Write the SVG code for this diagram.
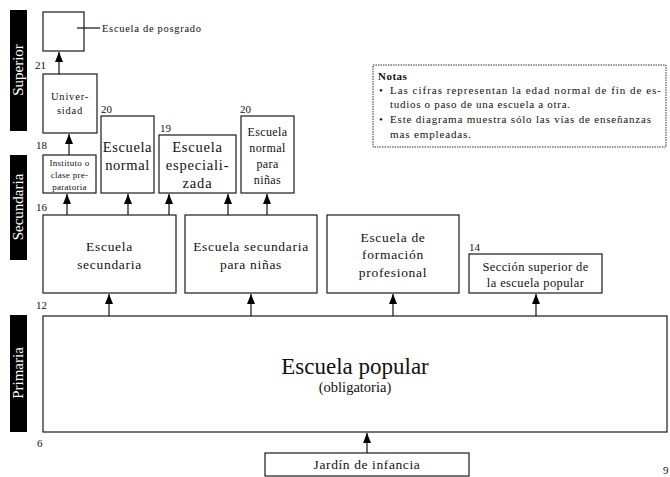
<svg xmlns="http://www.w3.org/2000/svg" width="670" height="477" viewBox="0 0 670 477" font-family="'Liberation Serif', serif">
<style>
.box{fill:#fff;stroke:#1a1a1a;stroke-width:1.2}
.bar{fill:#000}
.bl{fill:#fff;font-family:"Liberation Serif",serif;font-size:15px;text-anchor:middle}
.t{font-family:"Liberation Serif",serif;fill:#111;text-anchor:middle}
.n{font-family:"Liberation Serif",serif;fill:#111;font-size:11px}
.c{stroke:#111;stroke-width:1.2;fill:none}
</style>
<defs>
<marker id="ah" viewBox="0 0 10 8" refX="10" refY="4" markerWidth="10" markerHeight="8" markerUnits="userSpaceOnUse" orient="auto">
<path d="M0,0 L10,4 L0,8 Z" fill="#000"/>
</marker>
</defs>
<rect width="670" height="477" fill="#fff"/>

<g id="bars">
<rect class="bar" x="10" y="10" width="17" height="121"/>
<text class="bl" transform="translate(23,70) rotate(-90)">Superior</text>
<rect class="bar" x="10" y="155" width="17" height="105"/>
<text class="bl" transform="translate(23,207) rotate(-90)">Secundaria</text>
<rect class="bar" x="10" y="315" width="17" height="117"/>
<text class="bl" transform="translate(23,373) rotate(-90)">Primaria</text>
</g>

<g id="ages">
<text class="n" x="35" y="69">21</text>
<text class="n" x="36" y="149">18</text>
<text class="n" x="36" y="211">16</text>
<text class="n" x="36" y="309">12</text>
<text class="n" x="37" y="447">6</text>
<text class="n" x="101" y="113">20</text>
<text class="n" x="160" y="132">19</text>
<text class="n" x="240" y="113">20</text>
<text class="n" x="469" y="251">14</text>
<text class="n" x="663" y="474">9</text>
</g>

<g id="posgrado">
<rect class="box" x="43" y="12" width="41" height="39"/>
<line class="c" x1="77" y1="28" x2="100" y2="28"/>
<text class="t" x="102" y="32" style="text-anchor:start;font-size:10.5px" textLength="99" lengthAdjust="spacing">Escuela de posgrado</text>
</g>

<g id="universidad">
<rect class="box" x="43" y="74" width="54" height="59"/>
<text class="t" x="70" y="100" style="font-size:10.5px" letter-spacing="0.8">Univer-</text>
<text class="t" x="70" y="114" style="font-size:10.5px" letter-spacing="0.8">sidad</text>
</g>

<g id="instituto">
<rect class="box" x="43" y="155" width="53" height="38"/>
<text class="t" x="69.5" y="166" style="font-size:9px" letter-spacing="0.3">Instituto o</text>
<text class="t" x="69.5" y="178" style="font-size:9px" letter-spacing="0.3">clase pre-</text>
<text class="t" x="69.5" y="190" style="font-size:9px" letter-spacing="0.3">paratoria</text>
</g>

<g id="normal">
<rect class="box" x="101" y="116" width="53" height="77"/>
<text class="t" x="127.5" y="152" style="font-size:14.5px" letter-spacing="0.6">Escuela</text>
<text class="t" x="127.5" y="170" style="font-size:14.5px" letter-spacing="0.6">normal</text>
</g>

<g id="especializada">
<rect class="box" x="159" y="135" width="77" height="58"/>
<text class="t" x="197.5" y="152" style="font-size:14.5px" letter-spacing="0.8">Escuela</text>
<text class="t" x="197.5" y="170" style="font-size:14.5px" letter-spacing="0.8">especiali-</text>
<text class="t" x="197.5" y="188" style="font-size:14.5px" letter-spacing="0.8">zada</text>
</g>

<g id="normal-ninas">
<rect class="box" x="241" y="116" width="53" height="77"/>
<text class="t" x="267.5" y="136" style="font-size:12px" letter-spacing="0.4">Escuela</text>
<text class="t" x="267.5" y="152" style="font-size:12px" letter-spacing="0.4">normal</text>
<text class="t" x="267.5" y="168" style="font-size:12px" letter-spacing="0.4">para</text>
<text class="t" x="267.5" y="184" style="font-size:12px" letter-spacing="0.4">niñas</text>
</g>

<g id="secundaria">
<rect class="box" x="43" y="215" width="133" height="78"/>
<text class="t" x="109.5" y="251" style="font-size:13.5px" letter-spacing="0.7">Escuela</text>
<text class="t" x="109.5" y="269" style="font-size:13.5px" letter-spacing="0.7">secundaria</text>
</g>

<g id="secundaria-ninas">
<rect class="box" x="185" y="215" width="132" height="78"/>
<text class="t" x="251" y="251" style="font-size:13.5px" letter-spacing="0.7">Escuela secundaria</text>
<text class="t" x="251" y="269" style="font-size:13.5px" letter-spacing="0.7">para niñas</text>
</g>

<g id="formacion">
<rect class="box" x="327" y="215" width="132" height="78"/>
<text class="t" x="393" y="242" style="font-size:13.5px" letter-spacing="0.7">Escuela de</text>
<text class="t" x="393" y="259" style="font-size:13.5px" letter-spacing="0.7">formación</text>
<text class="t" x="393" y="277" style="font-size:13.5px" letter-spacing="0.7">profesional</text>
</g>

<g id="seccion">
<rect class="box" x="469" y="254" width="133" height="39"/>
<text class="t" x="535.5" y="271" style="font-size:12.5px" letter-spacing="0.4">Sección superior de</text>
<text class="t" x="535.5" y="287" style="font-size:12.5px" letter-spacing="0.4">la escuela popular</text>
</g>

<g id="popular">
<rect class="box" x="43" y="316" width="624" height="116"/>
<text class="t" x="355" y="374" style="font-size:23px">Escuela popular</text>
<text class="t" x="355" y="392" style="font-size:14.5px">(obligatoria)</text>
</g>

<g id="jardin">
<rect class="box" x="265" y="453" width="204" height="23"/>
<text class="t" x="367" y="469" style="font-size:13.5px" letter-spacing="0.6">Jardín de infancia</text>
</g>

<g id="notas">
<rect x="373" y="65" width="293" height="82" fill="#fff" stroke="#333" stroke-width="1" stroke-dasharray="1.5,1"/>
<text class="n" x="378" y="80" style="font-weight:bold" letter-spacing="0.5">Notas</text>
<text class="n" x="379" y="94">•</text>
<text class="n" x="390" y="94" textLength="271" lengthAdjust="spacing">Las cifras representan la edad normal de fin de es-</text>
<text class="n" x="390" y="108" textLength="180" lengthAdjust="spacing">tudios o paso de una escuela a otra.</text>
<text class="n" x="379" y="123">•</text>
<text class="n" x="390" y="123" textLength="261" lengthAdjust="spacing">Este diagrama muestra sólo las vías de enseñanzas</text>
<text class="n" x="390" y="138" textLength="81" lengthAdjust="spacing">mas empleadas.</text>
</g>

<g id="connectors">
<line class="c" x1="59" y1="74" x2="59" y2="52" marker-end="url(#ah)"/>
<line class="c" x1="69" y1="155" x2="69" y2="134" marker-end="url(#ah)"/>
<line class="c" x1="67" y1="215" x2="67" y2="194" marker-end="url(#ah)"/>
<line class="c" x1="128" y1="215" x2="128" y2="194" marker-end="url(#ah)"/>
<line class="c" x1="169" y1="215" x2="169" y2="194" marker-end="url(#ah)"/>
<line class="c" x1="228" y1="215" x2="228" y2="194" marker-end="url(#ah)"/>
<line class="c" x1="267" y1="215" x2="267" y2="194" marker-end="url(#ah)"/>
<line class="c" x1="109" y1="316" x2="109" y2="294" marker-end="url(#ah)"/>
<line class="c" x1="251" y1="316" x2="251" y2="294" marker-end="url(#ah)"/>
<line class="c" x1="393" y1="316" x2="393" y2="294" marker-end="url(#ah)"/>
<line class="c" x1="536" y1="316" x2="536" y2="294" marker-end="url(#ah)"/>
<line class="c" x1="367" y1="453" x2="367" y2="433" marker-end="url(#ah)"/>
</g>
</svg>
